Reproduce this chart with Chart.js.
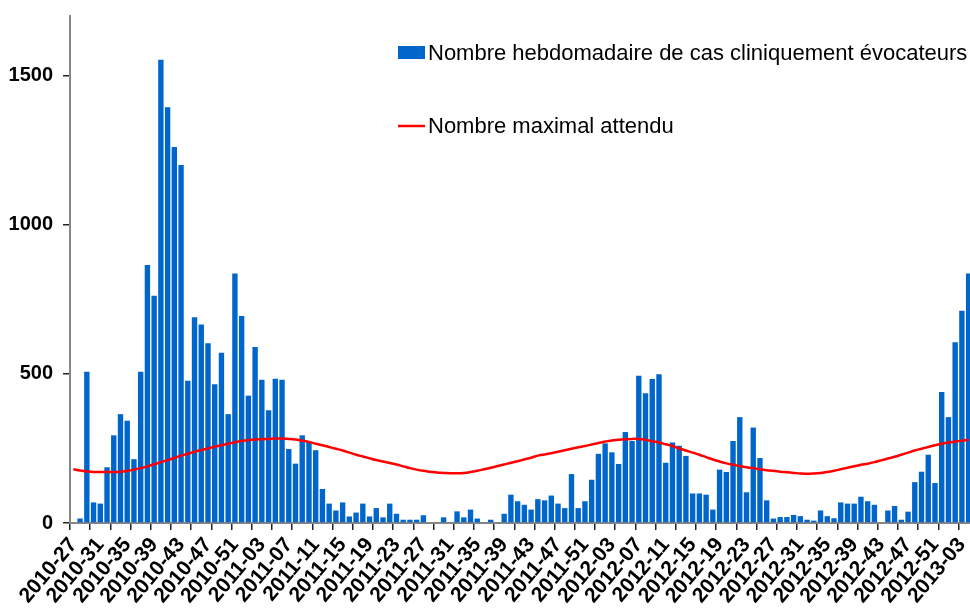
<!DOCTYPE html>
<html>
<head>
<meta charset="utf-8">
<script src="https://cdn.jsdelivr.net/npm/chart.js@4.4.1/dist/chart.umd.min.js"></script>
<style>
  html, body { margin: 0; padding: 0; background: #ffffff; overflow: hidden; }
  #wrap { position: relative; width: 972px; height: 613px; }
</style>
</head>
<body>
<div id="wrap"><canvas id="c" width="972" height="613"></canvas></div>
<script>
// ---- Categories: ISO weeks 2010-27 .. 2013-04 ----
const yearWeekRanges = [[2010, 27, 52], [2011, 1, 52], [2012, 1, 52], [2013, 1, 4]];
const weeks = [];
for (const [yr, a, b] of yearWeekRanges) {
  for (let w = a; w <= b; w++) weeks.push(yr + '-' + String(w).padStart(2, '0'));
}

// ---- Series: weekly number of clinically suggestive cases ----
const cases = [
  null, 15, 507, 69, 65, 187, 294, 365, 343, 214,
  507, 865, 762, 1553, 1394, 1261, 1200, 477, 690, 666,
  603, 465, 571, 365, 837, 694, 427, 590, 480, 378,
  484, 480, 248, 199, 294, 272, 244, 114, 65, 42,
  69, 22, 35, 65, 22, 50, 19, 65, 31, 11,
  11, 11, 26, 0, 0, 19, 3, 39, 19, 45,
  15, 3, 11, 3, 31, 95, 73, 61, 45, 80,
  76, 92, 65, 50, 164, 50, 73, 145, 232, 267,
  237, 198, 305, 275, 494, 435, 483, 499, 202, 270,
  259, 225, 99, 99, 95, 45, 179, 171, 275, 355,
  103, 320, 218, 76, 15, 20, 20, 27, 23, 11,
  8, 42, 23, 16, 69, 65, 65, 88, 73, 61,
  0, 42, 57, 11, 38, 137, 172, 229, 134, 439,
  355, 606, 712, 837
];

// ---- Series: expected maximum number ----
const maxExpected = [
  180, 176, 173, 171, 171, 171, 171, 172, 175, 179,
  184, 190, 197, 204, 211, 218, 226, 232, 239, 245,
  250, 256, 261, 266, 271, 275, 278, 280, 281, 282,
  283, 283, 282, 280, 276, 272, 266, 261, 255, 249,
  243, 236, 229, 223, 217, 211, 206, 201, 196, 190,
  184, 179, 175, 172, 169, 168, 167, 167, 168, 171,
  175, 180, 185, 191, 196, 202, 207, 213, 219, 226,
  230, 234, 239, 244, 249, 254, 258, 263, 268, 273,
  277, 279, 281, 282, 282, 279, 274, 270, 264, 258,
  250, 243, 236, 229, 221, 213, 206, 200, 195, 191,
  187, 184, 180, 177, 175, 172, 170, 168, 166, 165,
  166, 168, 171, 175, 180, 185, 190, 195, 199, 204,
  210, 216, 222, 229, 236, 243, 249, 255, 261, 266,
  270, 273, 276, 279
];

const seriesNames = ['Nombre hebdomadaire de cas cliniquement \u00e9vocateurs', 'Nombre maximal attendu'];
const yTickValues = [0, 500, 1000, 1500];

const legendPlugin = {
  id: 'insideLegend',
  afterDraw(chart) {
    const ctx = chart.ctx;
    const ds = chart.data.datasets;
    ctx.save();
    ctx.font = '22px "Liberation Sans", Arial, sans-serif';
    ctx.textBaseline = 'middle';
    ctx.textAlign = 'left';
    const bar = ds.find(d => d.type === 'bar');
    ctx.fillStyle = bar.backgroundColor;
    ctx.fillRect(398, 46, 27, 13);
    ctx.fillStyle = '#000000';
    ctx.fillText(bar.label, 428, 54);
    const line = ds.find(d => d.type === 'line');
    ctx.strokeStyle = line.borderColor;
    ctx.lineWidth = 2.5;
    ctx.beginPath();
    ctx.moveTo(398, 126);
    ctx.lineTo(425, 126);
    ctx.stroke();
    ctx.fillText(line.label, 428, 127);
    ctx.restore();
  }
};

new Chart(document.getElementById('c'), {
  data: {
    labels: weeks,
    datasets: [
      {
        type: 'line',
        label: seriesNames[1],
        data: maxExpected,
        borderColor: '#FF0000',
        borderWidth: 2.5,
        pointRadius: 0,
        tension: 0.4,
        fill: false,
        order: 0
      },
      {
        type: 'bar',
        label: seriesNames[0],
        data: cases,
        backgroundColor: '#0066CC',
        borderWidth: 0,
        barPercentage: 0.8,
        categoryPercentage: 1.0,
        order: 1
      }
    ]
  },
  options: {
    responsive: false,
    animation: false,
    devicePixelRatio: 1,
    layout: { padding: { top: 16, right: 0, left: 0, bottom: 0 } },
    plugins: {
      legend: { display: false },
      tooltip: { enabled: false },
      title: { display: false }
    },
    scales: {
      x: {
        offset: true,
        grid: {
          display: true,
          drawOnChartArea: false,
          drawTicks: true,
          tickLength: 7,
          offset: true,
          color: (c) => (c.index % 3 === 0 ? '#222222' : 'rgba(0,0,0,0)'),
          lineWidth: 1.5
        },
        border: { display: true, color: '#868686', width: 2 },
        ticks: {
          autoSkip: false,
          maxRotation: 50,
          minRotation: 50,
          padding: 3,
          color: '#000000',
          font: { family: '"Liberation Sans", Arial, sans-serif', size: 21, weight: 'bold' },
          callback: (v, i) => (i % 4 === 0 ? weeks[i] : '')
        },
        afterFit: (s) => { s.height = 90; s.paddingLeft = 0; s.paddingRight = 0; }
      },
      y: {
        min: 0,
        max: 1700,
        grid: {
          display: true,
          drawOnChartArea: false,
          drawTicks: true,
          tickLength: 7,
          color: '#222222',
          lineWidth: 1.5
        },
        border: { display: true, color: '#868686', width: 2 },
        afterBuildTicks: (s) => { s.ticks = yTickValues.map(v => ({ value: v })); },
        ticks: {
          padding: 10,
          color: '#000000',
          font: { family: '"Liberation Sans", Arial, sans-serif', size: 20, weight: 'bold' },
          callback: (v) => String(v)
        },
        afterFit: (s) => { s.width = 70; s.paddingTop = 0; s.paddingBottom = 0; }
      }
    }
  },
  plugins: [legendPlugin]
});
</script>
</body>
</html>
